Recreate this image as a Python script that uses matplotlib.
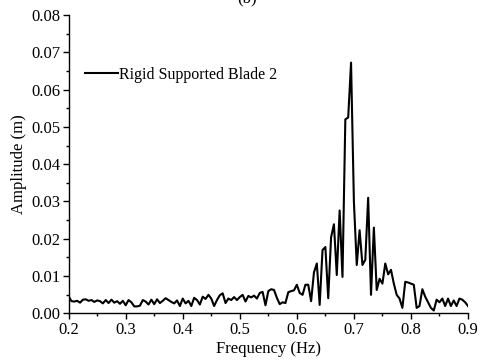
import numpy as np
import matplotlib
matplotlib.use('Agg')
import matplotlib.pyplot as plt
from matplotlib.ticker import MultipleLocator

plt.rcParams['font.family'] = 'Liberation Serif'

# FFT frequency grid (Hz) and amplitude (m)
freq = np.round(np.arange(0.200, 0.9001, 0.005), 3)
amp = [0.0046, 0.0033, 0.0032, 0.0034, 0.0029, 0.0037, 0.0038, 0.0034, 0.0036, 0.0031,
       0.0035, 0.0033, 0.0027, 0.0036, 0.0028, 0.0037, 0.0029, 0.0033, 0.0026, 0.0034,
       0.0022, 0.0036, 0.0030, 0.0019, 0.0019, 0.0021, 0.0036, 0.0032, 0.0024, 0.0037,
       0.0025, 0.0038, 0.0028, 0.0034, 0.0041, 0.0036, 0.0031, 0.0027, 0.0035, 0.0020,
       0.0040, 0.0027, 0.0034, 0.0020, 0.0042, 0.0036, 0.0024, 0.0045, 0.0039, 0.0050,
       0.0040, 0.0020, 0.0036, 0.0049, 0.0054, 0.0028, 0.0040, 0.0036, 0.0044, 0.0036,
       0.0044, 0.0050, 0.0032, 0.0047, 0.0043, 0.0048, 0.0040, 0.0055, 0.0058, 0.0022,
       0.0060, 0.0065, 0.0063, 0.0042, 0.0025, 0.0030, 0.0028, 0.0057, 0.0060, 0.0062,
       0.0077, 0.0055, 0.0050, 0.0077, 0.0077, 0.0033, 0.0110, 0.0134, 0.0023, 0.0170,
       0.0178, 0.0041, 0.0204, 0.0239, 0.0103, 0.0276, 0.0098, 0.0520, 0.0525, 0.0672,
       0.0300, 0.0130, 0.0223, 0.0130, 0.0144, 0.0310, 0.0050, 0.0230, 0.0063, 0.0093,
       0.0080, 0.0134, 0.0105, 0.0117, 0.0080, 0.0050, 0.0040, 0.0015, 0.0085, 0.0083,
       0.0080, 0.0077, 0.0015, 0.0020, 0.0065, 0.0045, 0.0030, 0.0015, 0.0008, 0.0037,
       0.0030, 0.0040, 0.0020, 0.0040, 0.0020, 0.0035, 0.0020, 0.0040, 0.0037, 0.0030,
       0.0020]

fig = plt.figure(figsize=(4.8, 3.62), dpi=100)
ax = fig.add_axes([0.143, 0.134, 0.832, 0.825])

ax.plot(freq, amp, color='black', lw=1.5, label='Rigid Supported Blade 2')

ax.set_xlim(0.2, 0.9)
ax.set_ylim(0, 0.08)
ax.xaxis.set_major_locator(MultipleLocator(0.1))
ax.xaxis.set_minor_locator(MultipleLocator(0.05))
ax.yaxis.set_major_locator(MultipleLocator(0.01))
ax.yaxis.set_minor_locator(MultipleLocator(0.005))
ax.set_xticklabels([f'{v:.1f}' for v in ax.get_xticks()])
ax.set_yticklabels([f'{v:.2f}' for v in ax.get_yticks()])

ax.spines['top'].set_visible(False)
ax.spines['right'].set_visible(False)
for s in ['left', 'bottom']:
    ax.spines[s].set_linewidth(1.0)
ax.tick_params(which='major', direction='out', length=4, width=1.0, labelsize=12, pad=2)
ax.tick_params(which='minor', direction='out', length=2.5, width=1.0)

ax.set_xlabel('Frequency (Hz)', fontsize=12, labelpad=2)
ax.set_ylabel('Amplitude (m)', fontsize=12, labelpad=3)

ax.legend(loc='center left', bbox_to_anchor=(0.04, 0.8), frameon=False,
          fontsize=11.5, handlelength=2.1, handletextpad=0.05,
          borderpad=0, borderaxespad=0)

fig.text(0.515, 0.994, '(b)', ha='center', va='baseline', fontsize=12)

fig.savefig('out.png', dpi=100)
